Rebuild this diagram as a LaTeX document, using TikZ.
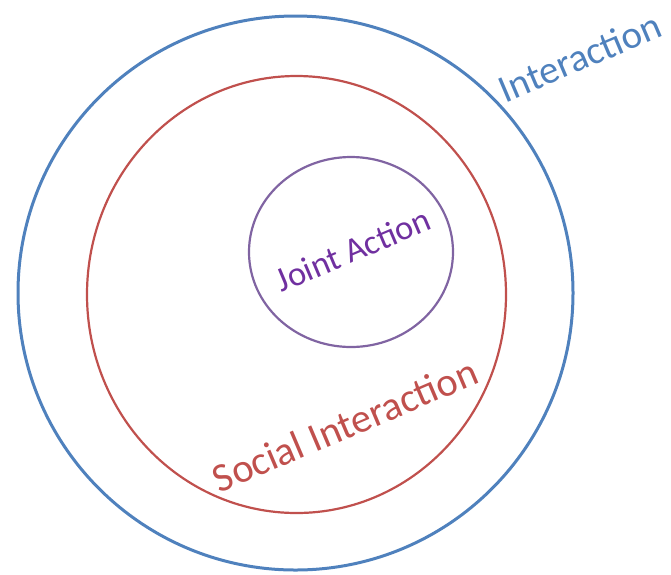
\documentclass[tikz,border=0pt]{standalone}
\usepackage{fontspec}
\setmainfont{Carlito}
\usepackage{tikz}
\usetikzlibrary{shapes.geometric}

\definecolor{interblue}{HTML}{4F81BD}
\definecolor{socialred}{HTML}{C0504D}
\definecolor{jointline}{HTML}{8064A2}
\definecolor{jointtext}{HTML}{7030A0}

\begin{document}
\begin{tikzpicture}[x=1pt,y=-1pt,
  ring/.style={draw, ellipse, inner sep=0pt},
  tag/.style={inner sep=0pt, rotate=23}
]
\useasboundingbox (0,0) rectangle (671,574);
\node[
      ring,
      interblue,
      line width=3pt,
      minimum width=555pt,
      minimum height=554pt
] (interaction) at (295.5,293) {};
\node[
      ring,
      socialred,
      line width=2.2pt,
      minimum width=419pt,
      minimum height=437pt
] (social) at (296.5,294.5) {};
\node[
      ring,
      jointline,
      line width=2.2pt,
      minimum width=204pt,
      minimum height=190pt
] (joint) at (351,252) {};
% labels
\node[tag, text=interblue, font=\fontsize{39}{41}\selectfont] (interactionlabel) at (580,57) {Interaction};
\node[tag, text=socialred, font=\fontsize{40.5}{42}\selectfont] (sociallabel) at (345,425) {Social Interaction};
\node[tag, text=jointtext, font=\fontsize{34.5}{36}\selectfont] (jointlabel) at (353,250) {Joint Action};
\end{tikzpicture}
\end{document}
